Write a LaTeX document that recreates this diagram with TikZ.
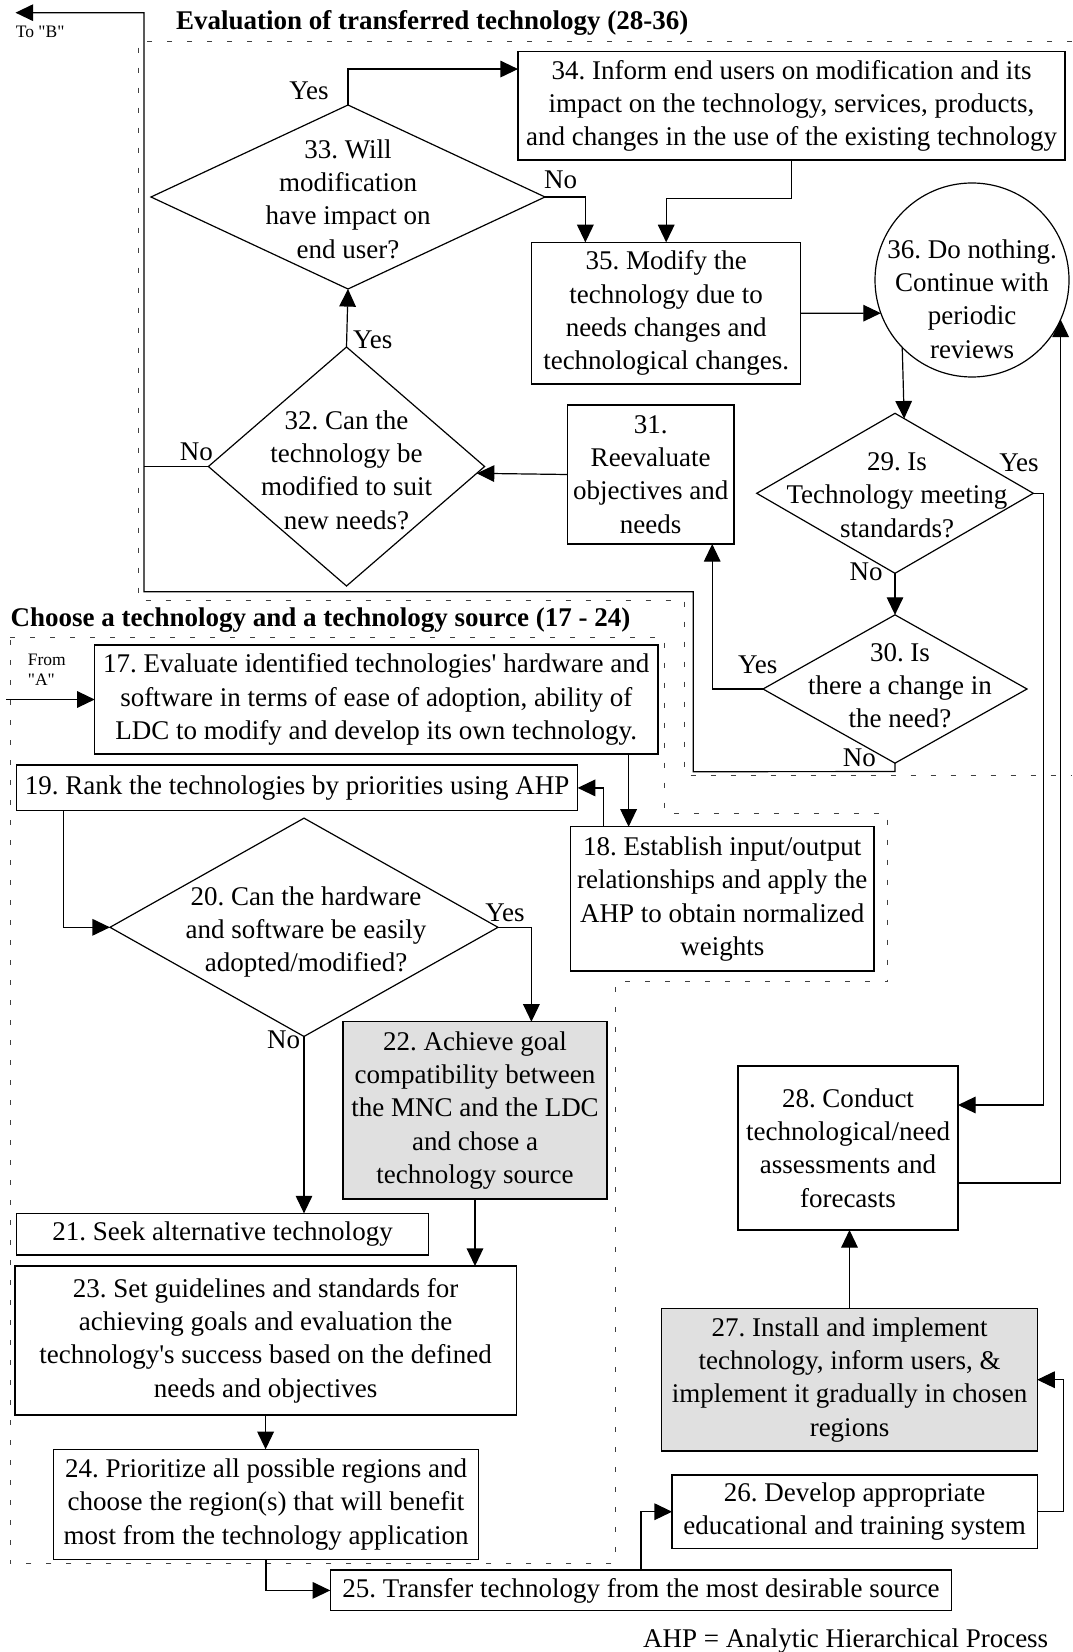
\documentclass[tikz,border=0pt]{standalone}
\usepackage{fontspec}
\setmainfont{Liberation Serif}[Ligatures=TeXOff]
\usetikzlibrary{shapes.geometric,arrows.meta}
\newcommand\fs{\fontsize{13.5pt}{16.65pt}\selectfont}
\newcommand\fsmall{\fontsize{8.75pt}{10pt}\selectfont}
\begin{document}
\frenchspacing
\begin{tikzpicture}[x=0.5pt,y=-0.5pt,
  box/.style={draw, line width=0.6pt, align=center, inner sep=0pt, outer sep=0pt, font=\fs},
  gbox/.style={box, fill=black!12},
  dia/.style={draw, diamond, line width=0.6pt, inner sep=0pt, outer sep=0pt},
  lbl/.style={font=\fs, inner sep=0pt, align=center},
  small/.style={font=\fsmall, inner sep=0pt, align=left},
  ttl/.style={font=\fs\bfseries, inner sep=0pt, anchor=base west},
  arr/.style={line width=0.6pt, -{Triangle[length=8.8pt,width=8.3pt]}},
  ln/.style={line width=0.6pt},
  region/.style={line width=0.5pt, black!75, dash pattern=on 2.5pt off 7.5pt},
]
\useasboundingbox (0,0) rectangle (1072,1652);

% ---- dashed regions
\draw[region] (1072,41.7) -- (138,41.7) -- (138,600) -- (684,600) -- (684,775) -- (1072,775);
\draw[region] (10,637.3) -- (664.8,637.3) -- (664.8,813) -- (887.7,813) -- (887.7,981.7) -- (615.5,981.7) -- (615.5,1563.3) -- (10,1563.3) -- cycle;

% ---- titles
\node[ttl] (title1) at (175.6,29.3) {Evaluation of transferred technology (28-36)};
\node[ttl] (title2) at (10.3,626) {Choose a technology and a technology source (17 - 24)};

% ---- evaluation part
\node[box, minimum width=273.5pt, minimum height=54.15pt] (b34) at (791.5,105.9)
  {34. Inform end users on modification and its\\impact on the technology, services, products,\\and changes in the use of the existing technology};
\node[box, minimum width=134.45pt, minimum height=70.85pt] (b35) at (666.2,313.2)
  {35. Modify the\\technology due to\\needs changes and\\technological changes.};
\node[draw, circle, line width=0.6pt, minimum size=97pt, inner sep=0pt, outer sep=0pt] (c36) at (972,280) {};
\node[lbl] (t36) at (972,299) {36. Do nothing.\\Continue with\\periodic\\reviews};
\node[box, minimum width=83.35pt, minimum height=69.5pt] (b31) at (650.7,474.5)
  {31.\\Reevaluate\\objectives and\\needs};

\node[dia, minimum width=197pt, minimum height=92pt] (d33) at (348,197) {};
\node[lbl] (t33) at (348,199.1) {33. Will\\modification\\have impact on\\end user?};
\node[dia, minimum width=138.1pt, minimum height=119.5pt] (d32) at (346.5,466.5) {};
\node[lbl] (t32) at (346.5,470) {32. Can the\\technology be\\modified to suit\\new needs?};
\node[dia, minimum width=138.3pt, minimum height=80pt] (d29) at (895,493.3) {};
\node[lbl] (t29) at (897,495) {29. Is\\Technology meeting\\standards?};
\node[dia, minimum width=132pt, minimum height=74.15pt] (d30) at (895,689) {};
\node[lbl] (t30) at (900,685.8) {30. Is\\there a change in\\the need?};

% ---- choose part
\node[box, minimum width=281.6pt, minimum height=54.5pt] (b17) at (376.3,699.5)
  {17. Evaluate identified technologies' hardware and\\software in terms of ease of adoption, ability of\\LDC to modify and develop its own technology.};
\node[box, minimum width=280.65pt, minimum height=22.85pt] (b19) at (297,787.9)
  {19. Rank the technologies by priorities using AHP};
\node[box, minimum width=151.7pt, minimum height=72.15pt] (b18) at (722.3,898.9)
  {18. Establish input/output\\relationships and apply the\\AHP to obtain normalized\\weights};
\node[dia, minimum width=194pt, minimum height=109.15pt] (d20) at (304,927.3) {};
\node[lbl] (t20) at (306,932.1) {20. Can the hardware\\and software be easily\\adopted/modified?};
\node[gbox, minimum width=132.05pt, minimum height=88.65pt] (b22) at (475,1110.4)
  {22. Achieve goal\\compatibility between\\the MNC and the LDC\\and chose a\\technology source};
\node[box, minimum width=206.15pt, minimum height=20.85pt] (b21) at (222.5,1234.2)
  {21. Seek alternative technology};
\node[box, minimum width=250.6pt, minimum height=74.5pt] (b23) at (265.6,1340.5)
  {23. Set guidelines and standards for\\achieving goals and evaluation the\\technology's success based on the defined\\needs and objectives};
\node[box, minimum width=212.65pt, minimum height=55pt] (b24) at (266,1504.3)
  {24. Prioritize all possible regions and\\choose the region(s) that will benefit\\most from the technology application};

% ---- implementation part
\node[box, minimum width=310.75pt, minimum height=20.35pt] (b25) at (641,1590.4)
  {25. Transfer technology from the most desirable source};
\node[box, minimum width=182.55pt, minimum height=36.65pt] (b26) at (854.6,1511.7)
  {26. Develop appropriate\\educational and training system};
\node[gbox, minimum width=187.65pt, minimum height=71.35pt] (b27) at (849.5,1379.7)
  {27. Install and implement\\technology, inform users, \&\\implement it gradually in chosen\\regions};
\node[box, minimum width=110pt, minimum height=82pt] (b28) at (848,1148)
  {28. Conduct\\technological/need\\assessments and\\forecasts};

\node[lbl, anchor=base west] (ahp) at (642.7,1647) {AHP = Analytic Hierarchical Process};

% ---- free ends
\coordinate (toB) at (15.5,12.7);
\coordinate (bcorner) at (144,12.7);
\coordinate (fromA) at (6.2,699.5);
\node[small, anchor=base west] (toBlbl) at (15.5,37.3) {To "B"};
\node[small, anchor=north west] (fromAlbl) at (27.5,653.4) {From\\"A"};

% ---- connectors: evaluation
\draw[arr] (d33.north) |- ([yshift=-8.65pt]b34.north west);
\node[lbl, anchor=base] (y33) at (309,100) {Yes};
\draw[arr] (d33.east) -| ([xshift=26.8pt]b35.north west);
\node[lbl, anchor=base] (n33) at (560.5,188.3) {No};
\draw[arr] (b34.south) -- ++(0,38.3) -| (b35.north);
\draw[arr] (b35.east) -- (c36.200);
\draw[arr] (c36.224.66) -- (d29.83.94);
\draw[arr] (d29.east) -- ++(10.3,0) |- ([yshift=21.5pt]b28.east);
\node[lbl, anchor=base] (y29) at (1019,471.7) {Yes};
\draw[arr] (d29.south) -- (d30.north);
\node[lbl, anchor=base] (n29) at (866,580) {No};
\draw[arr] (d30.west) -| ([xshift=30.75pt]b31.south);
\node[lbl, anchor=base] (y30) at (757.7,673.3) {Yes};
\draw[arr] (d30.south) -- ++(0,8.4) -- (693.2,771.7) -- (693.2,591.7) -- (144,591.7) -- (bcorner) -- (toB);
\node[lbl, anchor=base] (n30) at (859.3,766.7) {No};
\draw[arr] (b31.west) -- (d32.-3.55);
\draw[ln] (d32.west) -- (d32.west -| bcorner);
\node[lbl, anchor=base] (n32) at (196.3,460) {No};
\draw[arr] (d32.north) -- (d33.south);
\node[lbl, anchor=base] (y32) at (372.7,348.3) {Yes};

% ---- connectors: choose
\draw[arr] (fromA) -- (b17.west);
\draw[arr] ([xshift=126.15pt]b17.south) -- ([xshift=126.15pt]b17.south |- b18.north);
\draw[arr] ([xshift=-59.5pt]b18.north) |- (b19.east);
\draw[arr] ([xshift=-116.85pt]b19.south) |- (d20.west);
\draw[arr] (d20.east) -| ([xshift=28.2pt]b22.north);
\node[lbl, anchor=base] (y20) at (505,921.7) {Yes};
\draw[arr] (d20.south) -- (d20.south |- b21.north);
\node[lbl, anchor=base] (n20) at (283.7,1048.3) {No};
\draw[arr] (b22.south) -- (b22.south |- b23.north);
\draw[arr] (b23.south) -- (b23.south |- b24.north);
\draw[arr] (b24.south) |- (b25.west);

% ---- connectors: implementation
\draw[arr] (b25.north) |- (b26.west);
\draw[arr] (b26.east) -- ++(26,0) |- (b27.east);
\draw[arr] (b27.north) -- (b27.north |- b28.south);
\draw[arr] ([yshift=-17.5pt]b28.east) -| (c36.-24.03);
\end{tikzpicture}
\end{document}
